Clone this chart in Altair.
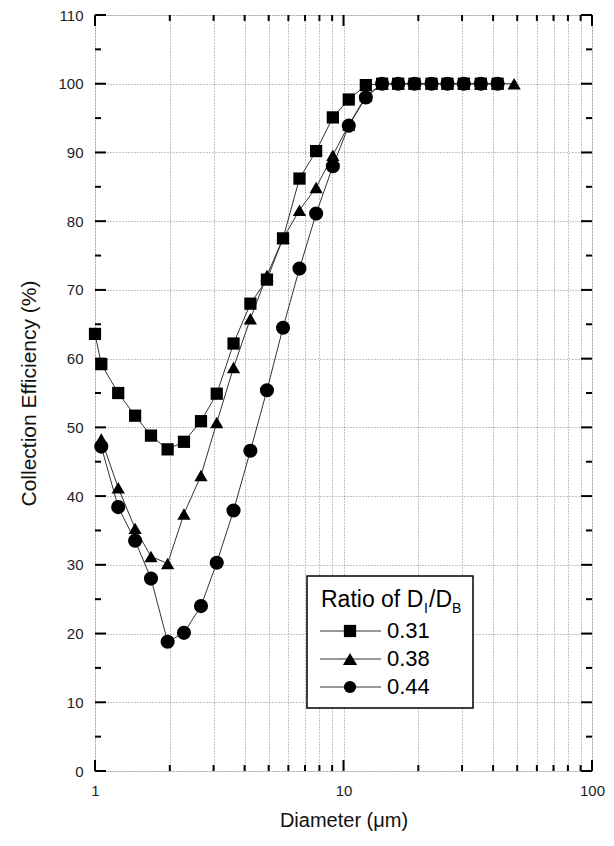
import altair as alt
import pandas as pd

# ---- data ----
X = [1.06, 1.24, 1.45, 1.68, 1.96, 2.28, 2.67, 3.09, 3.61, 4.22, 4.92, 5.71, 6.65,
     7.76, 9.06, 10.5, 12.3, 14.3, 16.6, 19.3, 22.6, 26.2, 30.5, 35.7, 41.7, 48.6]

sq_x = [1.0] + X[:25]
sq_y = [63.6, 59.2, 55.0, 51.7, 48.8, 46.8, 47.9, 50.9, 54.9, 62.2, 68.0, 71.5, 77.5,
        86.2, 90.2, 95.1, 97.7, 99.8, 100, 100, 100, 100, 100, 100, 100, 100]

tri_x = X[:26]
tri_y = [48.3, 41.2, 35.3, 31.2, 30.2, 37.4, 43.0, 50.7, 58.7, 65.8, 72.1, 77.5, 81.6,
         84.9, 89.6, 94.0, 98.2, 100, 100, 100, 100, 100, 100, 100, 100, 100]

cir_x = X[:25]
cir_y = [47.2, 38.4, 33.5, 28.0, 18.8, 20.1, 24.0, 30.3, 37.9, 46.6, 55.4, 64.5, 73.1,
         81.1, 88.0, 93.9, 98.0, 100, 100, 100, 100, 100, 100, 100, 100]

series = ["0.31", "0.38", "0.44"]
shapes = ["square", "triangle-up", "circle"]
sizes = [150, 200, 150]

y_ticks = list(range(0, 115, 5))
y_major = [v for v in y_ticks if v % 10 == 0]
y_minor = [v for v in y_ticks if v % 10 != 0]
x_major = [1, 10, 100]
x_minor = [2, 3, 4, 5, 6, 7, 8, 9, 20, 30, 40, 50, 60, 70, 80, 90]
x_ticks = sorted(x_major + x_minor)

W, H = 497, 756
FONT = "Liberation Sans"

rows = []
for s, xs, ys in [("0.44", cir_x, cir_y), ("0.38", tri_x, tri_y), ("0.31", sq_x, sq_y)]:
    for a, b in zip(xs, ys):
        rows.append({"series": s, "d": a, "eff": b})
df = pd.DataFrame(rows)

xscale = alt.Scale(type="log", domain=[1, 100])
yscale = alt.Scale(domain=[0, 110])

xaxis = alt.Axis(values=x_ticks, grid=True, ticks=False, domain=False,
                 labelExpr="(datum.value == 1 || datum.value == 10 || datum.value == 100) ? format(datum.value, 'd') : ''",
                 labelFontSize=15, labelPadding=12, labelFont=FONT, labelColor="#222",
                 title="Diameter (μm)", titleFontSize=20, titleFont=FONT,
                 titleFontWeight="normal", titlePadding=12, titleColor="#111",
                 gridDash=[1, 2], gridColor="#888", gridWidth=1, labelFlush=False)
yaxis = alt.Axis(values=y_ticks, grid=True, ticks=False, domain=False,
                 labelExpr="datum.value % 10 == 0 ? datum.label : ''",
                 labelFontSize=15, labelPadding=12, labelFont=FONT, labelColor="#222",
                 title="Collection Efficiency (%)", titleFontSize=21, titleFont=FONT,
                 titleFontWeight="normal", titlePadding=18, titleColor="#111",
                 gridDash=[1, 2], gridColor="#888", gridWidth=1)

base = alt.Chart(df)
lines = base.mark_line(color="#333", strokeWidth=1).encode(
    x=alt.X("d:Q", scale=xscale, axis=xaxis),
    y=alt.Y("eff:Q", scale=yscale, axis=yaxis),
    detail="series:N",
)
points = base.mark_point(filled=True, opacity=1, color="black").encode(
    x=alt.X("d:Q", scale=xscale),
    y=alt.Y("eff:Q", scale=yscale),
    shape=alt.Shape("series:N", scale=alt.Scale(domain=series, range=shapes), legend=None),
    size=alt.Size("series:N", scale=alt.Scale(domain=series, range=sizes), legend=None),
)

# ---- inward ticks on all four sides ----
def yticks(vals, x0, x1):
    return alt.Chart(pd.DataFrame({"v": vals})).mark_rule(color="black", strokeWidth=2).encode(
        y=alt.Y("v:Q", scale=yscale), x=alt.value(x0), x2=alt.value(x1))

def xticks(vals, y0, y1):
    return alt.Chart(pd.DataFrame({"v": vals})).mark_rule(color="black", strokeWidth=2).encode(
        x=alt.X("v:Q", scale=xscale), y=alt.value(y0), y2=alt.value(y1))

ticks = [
    yticks(y_major, 0, 11), yticks(y_minor, 0, 6),
    yticks(y_major, W, W - 11), yticks(y_minor, W, W - 6),
    xticks(x_major, H, H - 11), xticks(x_minor, H, H - 6),
    xticks(x_major, 0, 11), xticks(x_minor, 0, 6),
]

# ---- legend box ----
one = pd.DataFrame({"k": [0]})
LX0, LX1, LY0, LY1 = 212, 378, 561, 693
box = alt.Chart(one).mark_rect(fill="white", stroke="black", strokeWidth=1.5).encode(
    x=alt.value(LX0), x2=alt.value(LX1), y=alt.value(LY0), y2=alt.value(LY1))

def txt(t, x, y, size, baseline="alphabetic"):
    return alt.Chart(one).mark_text(text=t, align="left", baseline=baseline, fontSize=size,
                                    font=FONT, color="black").encode(
        x=alt.value(x), y=alt.value(y))

leg = [box,
       txt("Ratio of D", 226, 592, 23),
       txt("I", 329, 598, 14),
       txt("/D", 334, 592, 23),
       txt("B", 357, 598, 14)]
entry_y = [616, 644, 672]
for s, shp, sz, ey in zip(series, shapes, sizes, entry_y):
    leg.append(alt.Chart(one).mark_rule(color="#333", strokeWidth=1).encode(
        x=alt.value(225), x2=alt.value(286), y=alt.value(ey)))
    leg.append(alt.Chart(one).mark_point(shape=shp, size=sz, filled=True, opacity=1,
                                         color="black").encode(
        x=alt.value(255), y=alt.value(ey)))
    leg.append(txt(s, 292, ey, 22, baseline="middle"))

chart = alt.layer(lines, points, *ticks, *leg).properties(
    width=W, height=H,
    padding={"left": 95, "top": 15, "right": 22, "bottom": 75},
    autosize="none",
).configure_view(stroke="black", strokeWidth=2).configure(background="white")

chart.save("out.html", embed_options={"renderer": "svg", "actions": False})
